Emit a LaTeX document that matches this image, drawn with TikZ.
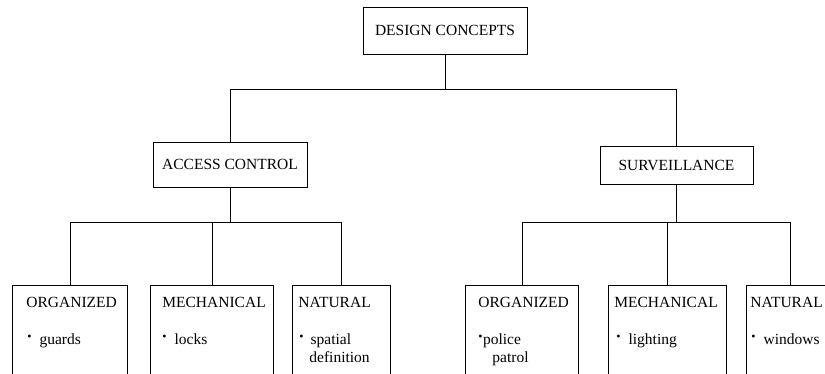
\documentclass[tikz,border=0pt]{standalone}
\usepackage{fontspec}
\setmainfont{Liberation Serif}
\newcommand{\bul}{\raisebox{4pt}{\fontsize{12}{12}\selectfont\textbullet}}

\begin{document}
\begin{tikzpicture}[
        x=1pt, y=-1pt,
        line width=0.8pt,
        font=\fontsize{15.5}{18}\selectfont,
        topbox/.style={draw, inner sep=0pt, align=center},
        leaf/.style={draw, minimum height=120, inner sep=0pt, anchor=north west},
        txt/.style={anchor=base west, inner sep=0pt}
    ]
        \useasboundingbox (0,0) rectangle (825,373);

        % Upper levels
        \node[topbox, minimum width=164, minimum height=47] (design) at (445,30.5) {DESIGN CONCEPTS};
        \node[topbox, minimum width=154, minimum height=45] (access) at (230,164.5) {ACCESS CONTROL};
        \node[topbox, minimum width=153, minimum height=38] (surv) at (676.5,165) {SURVEILLANCE};

        % Access control leaves
        \node[leaf, minimum width=115] (orgA) at (12,285) {};
        \node[txt] (orgAhead) at (26,307) {ORGANIZED};
        \node[txt] (orgAitem) at (27,344) {\bul\hspace{8pt}guards};

        \node[leaf, minimum width=123] (mechA) at (150,285) {};
        \node[txt] (mechAhead) at (162,307) {MECHANICAL};
        \node[txt] (mechAitem) at (162,344) {\bul\hspace{8pt}locks};

        \node[leaf, minimum width=98] (natA) at (292,285) {};
        \node[txt] (natAhead) at (298,307) {NATURAL};
        \node[txt] (natAitem) at (299,344) {\bul\hspace{7pt}spatial};
        \node[txt] (natAitemb) at (309,362) {definition};

        % Surveillance leaves
        \node[leaf, minimum width=113] (orgB) at (465,285) {};
        \node[txt] (orgBhead) at (478,307) {ORGANIZED};
        \node[txt] (orgBitem) at (478,344) {\bul\hspace{0.5pt}police};
        \node[txt] (orgBitemb) at (492,362) {patrol};

        \node[leaf, minimum width=118] (mechB) at (608,285) {};
        \node[txt] (mechBhead) at (614,307) {MECHANICAL};
        \node[txt] (mechBitem) at (616,344) {\bul\hspace{8pt}lighting};

        \node[leaf, minimum width=88] (natB) at (746,285) {};
        \node[txt] (natBhead) at (750,307) {NATURAL};
        \node[txt] (natBitem) at (751,344) {\bul\hspace{8pt}windows};

        % Connectors
        \draw (design.south) -- ++(0,35) coordinate (topbus);
        \draw (access.north) |- (topbus) -| (surv.north);

        \draw (access.south) -- ++(0,35) coordinate (accbus);
        \draw (orgA.north) |- (accbus) -| (natA.north);
        \draw (accbus) -| (mechA.north);

        \draw (surv.south) -- ++(0,38) coordinate (survbus);
        \draw (orgB.north) |- (survbus) -| (natB.north);
        \draw (survbus) -| (mechB.north);
    \end{tikzpicture}
\end{document}
